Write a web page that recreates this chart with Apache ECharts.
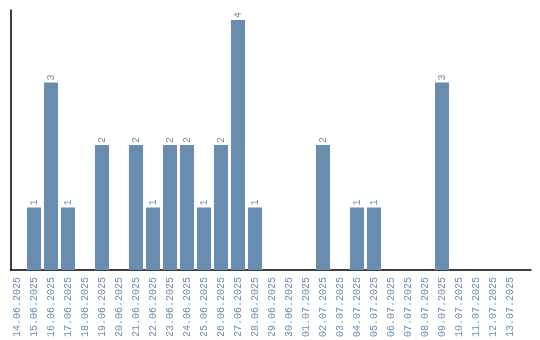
<!DOCTYPE html>
<html><head><meta charset="utf-8">
<script src="https://cdn.jsdelivr.net/npm/echarts@6/dist/echarts.min.js"></script>
<style>html,body{margin:0;padding:0;background:#fff}#c{width:540px;height:340px}</style>
</head><body><div id="c"></div>
<script>
const categories = ["14.06.2025","15.06.2025","16.06.2025","17.06.2025","18.06.2025","19.06.2025","20.06.2025","21.06.2025","22.06.2025","23.06.2025","24.06.2025","25.06.2025","26.06.2025","27.06.2025","28.06.2025","29.06.2025","30.06.2025","01.07.2025","02.07.2025","03.07.2025","04.07.2025","05.07.2025","06.07.2025","07.07.2025","08.07.2025","09.07.2025","10.07.2025","11.07.2025","12.07.2025","13.07.2025"];
const counts = [0,1,3,1,0,2,0,2,1,2,2,1,2,4,1,0,0,0,2,0,1,1,0,0,0,3,0,0,0,0];
const chart = echarts.init(document.getElementById('c'), null, {renderer:'canvas'});
const color = '#6a8caf';
chart.setOption({
  animation:false,
  grid:[
    {left:8.5, right:21.5, top:10, bottom:70, containLabel:false},
    {left:10.5, right:9, top:10, bottom:70, containLabel:false}
  ],
  xAxis:[
    {type:'category', data:categories, gridIndex:0,
      axisLine:{show:false}, axisTick:{show:false},
      axisLabel:{rotate:90, interval:0, color:color, fontFamily:'Liberation Mono', fontSize:10, margin:7}},
    {type:'value', gridIndex:1, min:0, max:1,
      axisLine:{show:true, lineStyle:{color:'#000', width:1.5}},
      axisTick:{show:false}, axisLabel:{show:false}, splitLine:{show:false}}
  ],
  yAxis:[
    {type:'value', gridIndex:0, min:0, max:4.16,
      axisLine:{show:false}, axisTick:{show:false}, axisLabel:{show:false}, splitLine:{show:false}},
    {type:'value', gridIndex:1, min:0, max:1,
      axisLine:{show:true, lineStyle:{color:'#000', width:1.5}},
      axisTick:{show:false}, axisLabel:{show:false}, splitLine:{show:false}}
  ],
  series:[{type:'bar', data:counts, barCategoryGap:'17%', xAxisIndex:0, yAxisIndex:0, z:3,
    itemStyle:{color:color},
    label:{show:true, position:'top', rotate:90, align:'left', verticalAlign:'middle', distance:2,
      color:color, fontFamily:'Liberation Mono', fontSize:10,
      formatter:p=>p.value>0?String(p.value):''}}]
});
</script></body></html>
